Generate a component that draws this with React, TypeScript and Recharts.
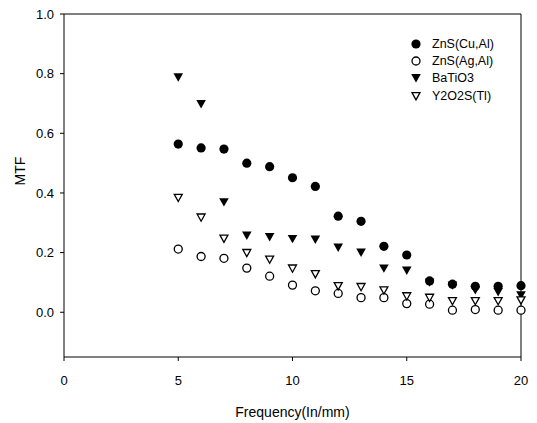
import React from "react";
import {
  ScatterChart,
  Scatter,
  XAxis,
  YAxis,
  ReferenceLine,
} from "recharts";

// frequency (lp/mm) and MTF readings per phosphor
const FREQ = [5, 6, 7, 8, 9, 10, 11, 12, 13, 14, 15, 16, 17, 18, 19, 20];
const ZNS_CU = [0.564, 0.551, 0.547, 0.5, 0.488, 0.451, 0.422, 0.322, 0.305, 0.221, 0.192, 0.105, 0.094, 0.087, 0.087, 0.089];
const ZNS_AG = [0.212, 0.187, 0.181, 0.148, 0.121, 0.091, 0.072, 0.063, 0.049, 0.049, 0.029, 0.027, 0.007, 0.009, 0.007, 0.007];
const BATIO3 = [0.788, 0.698, 0.369, 0.257, 0.252, 0.246, 0.244, 0.217, 0.2, 0.147, 0.14, 0.1, 0.09, 0.074, 0.068, 0.057];
const Y2O2S = [0.384, 0.318, 0.247, 0.199, 0.177, 0.147, 0.128, 0.088, 0.085, 0.074, 0.054, 0.049, 0.038, 0.038, 0.038, 0.04];

const X_TICKS = [0, 5, 10, 15, 20];
const Y_TICKS = [0, 0.2, 0.4, 0.6, 0.8, 1.0];

const FONT = "'Liberation Sans', Arial, sans-serif";

const toPoints = (vals: number[]) => FREQ.map((f, i) => ({ x: f, y: vals[i] }));

type Kind = "dot" | "ring" | "tri" | "otri";

const Marker = ({ kind, cx, cy }: { kind: Kind; cx: number; cy: number }) => {
  if (kind === "dot") return <circle cx={cx} cy={cy} r={4.6} fill="#000" />;
  if (kind === "ring")
    return <circle cx={cx} cy={cy} r={4} fill="#fff" stroke="#000" strokeWidth={1.3} />;
  const pts = `${cx - 4.8},${cy - 4} ${cx + 4.8},${cy - 4} ${cx},${cy + 4.4}`;
  if (kind === "tri") return <polygon points={pts} fill="#000" />;
  return <polygon points={`${cx - 4},${cy - 3.4} ${cx + 4},${cy - 3.4} ${cx},${cy + 3.8}`} fill="#fff" stroke="#000" strokeWidth={1.3} />;
};

const SERIES: { name: string; vals: number[]; kind: Kind }[] = [
  { name: "ZnS(Cu,Al)", vals: ZNS_CU, kind: "dot" },
  { name: "ZnS(Ag,Al)", vals: ZNS_AG, kind: "ring" },
  { name: "BaTiO3", vals: BATIO3, kind: "tri" },
  { name: "Y2O2S(Tl)", vals: Y2O2S, kind: "otri" },
];

const LegendBox = () => (
  <div
    style={{
      position: "absolute",
      left: 410,
      top: 35,
      fontFamily: FONT,
      fontSize: 12.5,
      color: "#000",
    }}
  >
    {SERIES.map((s) => (
      <div key={s.name} style={{ display: "flex", alignItems: "center", height: 17.3 }}>
        <svg width={12} height={12} style={{ marginRight: 10 }}>
          <Marker kind={s.kind} cx={6} cy={6} />
        </svg>
        <span>{s.name}</span>
      </div>
    ))}
  </div>
);

export default function App() {
  return (
    <div style={{ position: "absolute", left: 0, top: 0, width: 537, height: 423, background: "#fff" }}>
      <ScatterChart
        width={537}
        height={423}
        margin={{ top: 14, right: 16, bottom: 0, left: 24 }}
      >
        <XAxis
          type="number"
          dataKey="x"
          domain={[0, 20]}
          ticks={X_TICKS}
          tickSize={4}
          tickMargin={15}
          height={66}
          stroke="#000"
          tick={{ fill: "#000", fontSize: 13, fontFamily: FONT }}
          label={{
            value: "Frequency(In/mm)",
            position: "insideBottom",
            offset: 6,
            fill: "#000",
            fontSize: 14,
            fontFamily: FONT,
          }}
        />
        <YAxis
          type="number"
          dataKey="y"
          domain={[-0.15, 1]}
          ticks={Y_TICKS}
          tickFormatter={(v: number) => v.toFixed(1)}
          tickSize={4}
          tickMargin={6}
          width={40}
          stroke="#000"
          tick={{ fill: "#000", fontSize: 13, fontFamily: FONT }}
          label={{
            value: "MTF",
            angle: -90,
            position: "insideLeft",
            offset: -4,
            fill: "#000",
            fontSize: 14,
            fontFamily: FONT,
          }}
        />
        <ReferenceLine y={1} stroke="#000" />
        <ReferenceLine x={20} stroke="#000" />
        {SERIES.map((s) => (
          <Scatter
            key={s.name}
            name={s.name}
            data={toPoints(s.vals)}
            isAnimationActive={false}
            shape={(p: any) => <Marker kind={s.kind} cx={p.cx} cy={p.cy} />}
          />
        ))}
      </ScatterChart>
      <LegendBox />
    </div>
  );
}
